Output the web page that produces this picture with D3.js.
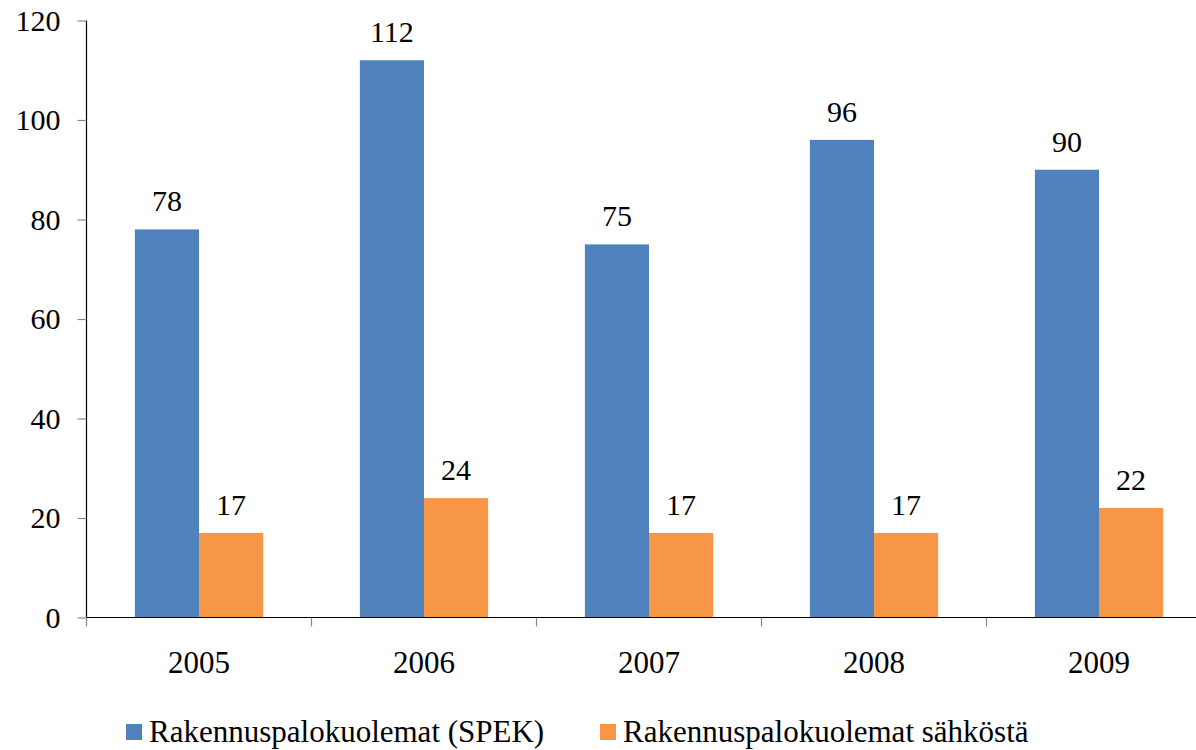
<!DOCTYPE html>
<html><head><meta charset="utf-8">
<script src="https://cdn.jsdelivr.net/npm/d3@7"></script>
<style>html,body{margin:0;padding:0;background:#fff;overflow:hidden}
svg text{font-family:"Liberation Serif","Times New Roman",Times,serif;}</style>
</head><body>
<svg id="c" width="1196" height="750"></svg>
<script>
const years = ["2005","2006","2007","2008","2009"];
const seriesNames = ["Rakennuspalokuolemat (SPEK)","Rakennuspalokuolemat sähköstä"];
const spek = [78,112,75,96,90];
const sahko = [17,24,17,17,22];
const yTicks = [0,20,40,60,80,100,120];
const colors = ["#4F81BD","#F79646"];

(function(){
const svg = d3.select("#c");
const mLeft = 86.5, mRight = 1211.5, mTop = 20.5, mBottom = 617.5;
const fs = 30, fsL = 31;

const x0 = d3.scaleBand().domain(years).range([mLeft,mRight]).paddingInner(0.43).paddingOuter(0.215);
const x1 = d3.scaleBand().domain([0,1]).range([0,x0.bandwidth()]);
const y = d3.scaleLinear().domain([0,120]).range([mBottom,mTop]);

const data = years.map((yr,i)=>({yr, vals:[spek[i],sahko[i]]}));

const g = svg.append("g");
data.forEach(d=>{
  d.vals.forEach((v,k)=>{
    g.append("rect")
      .attr("x", x0(d.yr)+x1(k)).attr("width", x1.bandwidth())
      .attr("y", y(v)).attr("height", y(0)-y(v))
      .attr("fill", colors[k]);
    g.append("text")
      .attr("x", x0(d.yr)+x1(k)+x1.bandwidth()/2)
      .attr("y", y(v)-18)
      .attr("text-anchor","middle")
      .attr("font-size",fs).attr("fill","#000")
      .text(v);
  });
});

const yAxis = d3.axisLeft(y).tickValues(yTicks).tickSize(9).tickPadding(17);
const ya = svg.append("g").attr("transform",`translate(${mLeft},0)`).call(yAxis);
ya.attr("font-family",null);
ya.select(".domain").attr("stroke","#000").attr("stroke-width",1.2).attr("d",`M0,${mTop}V${mBottom}`);
ya.selectAll(".tick line").attr("stroke","#888").attr("stroke-width",1.2);
ya.selectAll(".tick text").attr("font-size",fs).attr("fill","#000");

const xa = svg.append("g").attr("transform",`translate(0,${mBottom})`);
xa.append("line").attr("x1",mLeft).attr("x2",mRight).attr("stroke","#000").attr("stroke-width",1.2);
const step = x0.step();
d3.range(years.length+1).forEach(i=>{
  const xx = mLeft + i*step;
  xa.append("line").attr("x1",xx).attr("x2",xx).attr("y1",0).attr("y2",9).attr("stroke","#888").attr("stroke-width",1.2);
});
years.forEach(yr=>{
  xa.append("text").attr("x",x0(yr)+x0.bandwidth()/2).attr("y",55)
    .attr("text-anchor","middle").attr("font-size",fsL).attr("fill","#000").text(yr);
});

const legX = [126,600];
seriesNames.forEach((n,k)=>{
  svg.append("rect").attr("x",legX[k]).attr("y",724).attr("width",16).attr("height",16).attr("fill",colors[k]);
  svg.append("text").attr("x",legX[k]+23).attr("y",742).attr("font-size",fsL).attr("fill","#000").text(n);
});
})();
</script>
</body></html>
